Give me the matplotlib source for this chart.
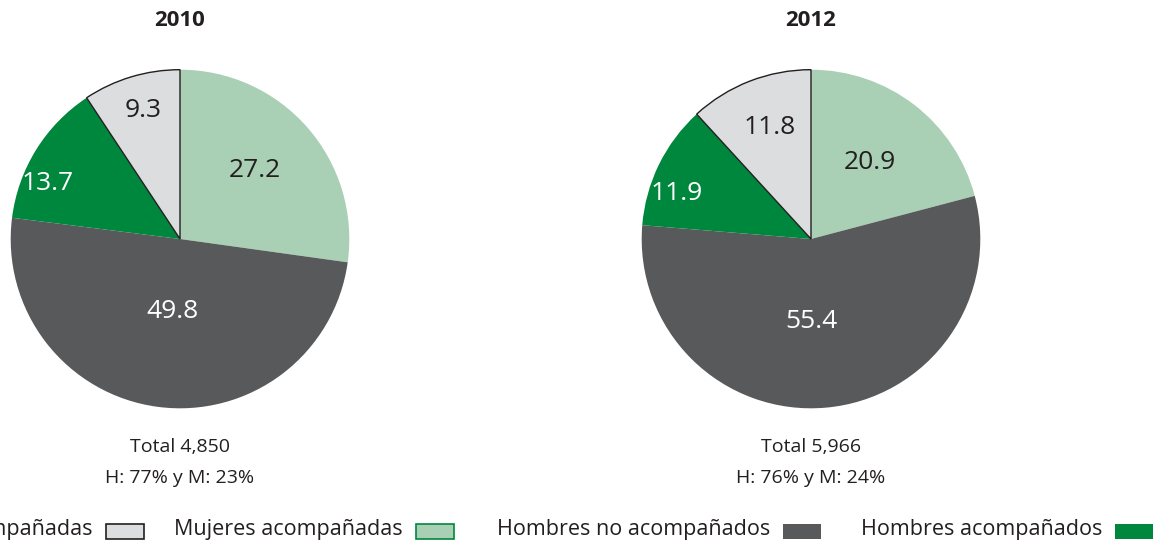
import numpy as np
import matplotlib.pyplot as plt
from matplotlib.patches import Rectangle

plt.rcParams['font.family'] = ['Open Sans', 'DejaVu Sans']

# datos
years = ['2010', '2012']
categories = ['Mujeres acompañadas', 'Hombres no acompañados',
              'Hombres acompañados', 'Mujeres no acompañadas']
values_2010 = [27.2, 49.8, 13.7, 9.3]
values_2012 = [20.9, 55.4, 11.9, 11.8]
totals = ['4,850', '5,966']
shares = ['H: 77% y M: 23%', 'H: 76% y M: 24%']
legend_order = ['Mujeres no acompañadas', 'Mujeres acompañadas',
                'Hombres no acompañados', 'Hombres acompañados']

colors = {'Mujeres acompañadas': '#a9cfb4',
          'Hombres no acompañados': '#58595b',
          'Hombres acompañados': '#00873e',
          'Mujeres no acompañadas': '#dcdddf'}
text_colors = ['#231f20', 'white', 'white', '#231f20']
edges = {'Mujeres no acompañadas': '#231f20', 'Mujeres acompañadas': '#00873e',
         'Hombres no acompañados': 'none', 'Hombres acompañados': 'none'}

# posicion de las etiquetas (fraccion del radio, desplazamiento en grados)
label_dist = [[0.6, 0.43, 0.85, 0.79], [0.57, 0.49, 0.84, 0.70]]
label_shift = [[1.6, 2, 9, -0.8], [0, -5, 7.4, -1]]

W, H = 1155, 544
fig = plt.figure(figsize=(W / 100, H / 100), dpi=100)

centers = [180, 811]
r = 171
for i, vals in enumerate([values_2010, values_2012]):
    cx = centers[i]
    ax = fig.add_axes([(cx - r) / W, (H - 239 - r) / H, 2 * r / W, 2 * r / H])
    wedges, _ = ax.pie(vals, colors=[colors[c] for c in categories],
                       startangle=90, counterclock=False, radius=1)
    # borde solo en la rebanada gris claro
    wedges[3].set_edgecolor('#231f20')
    wedges[3].set_linewidth(1)
    for j, w in enumerate(wedges):
        ang = np.deg2rad((w.theta1 + w.theta2) / 2 + label_shift[i][j])
        d = label_dist[i][j]
        ax.text(d * np.cos(ang), d * np.sin(ang), f'{vals[j]:.1f}',
                ha='center', va='center', fontsize=19, color=text_colors[j])
    ax.set_xlim(-1.01, 1.01)
    ax.set_ylim(-1.01, 1.01)
    ax.set_aspect('equal')
    ax.axis('off')

    fig.text(cx / W, 1 - 20 / H, years[i], ha='center', va='center',
             fontsize=16, fontweight='bold', color='#231f20')
    fig.text(cx / W, 1 - 447 / H, 'Total ' + totals[i], ha='center',
             va='center', fontsize=14, color='#231f20')
    fig.text(cx / W, 1 - 478 / H, shares[i], ha='center', va='center',
             fontsize=14, color='#231f20')

# leyenda manual: texto y luego la caja
box_left = [106, 416, 783, 1115]
for k, name in enumerate(legend_order):
    x0 = box_left[k]
    fig.patches.append(Rectangle((x0 / W, 1 - 539 / H), 38 / W, 15 / H,
                                 transform=fig.transFigure,
                                 facecolor=colors[name], edgecolor=edges[name],
                                 linewidth=1.2))
    fig.text((x0 - 13) / W, 1 - 530 / H, name, ha='right', va='center',
             fontsize=15.5, color='#231f20')

fig.savefig('out.png', dpi=100)
